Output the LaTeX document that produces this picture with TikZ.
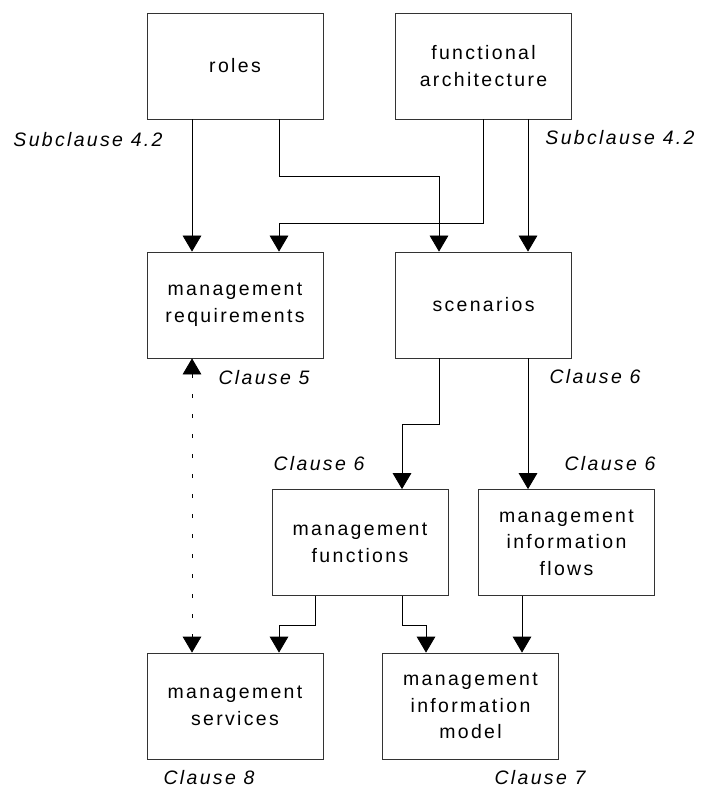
\documentclass[tikz,border=0pt]{standalone}
\usepackage{fontspec}
\setmainfont{Liberation Sans}[LetterSpace=12]
\usetikzlibrary{arrows.meta,calc}
\tikzstyle{box}=[draw=black!80,line width=0.6pt,minimum width=132pt,minimum height=79.5pt,
  align=center,font=\fontsize{14.6}{20}\selectfont]
\tikzstyle{ref}=[font=\fontsize{14.6}{20}\selectfont\itshape]
\tikzstyle{arr}=[line width=0.6pt,-{Triangle[width=14pt,length=12pt]}]

\begin{document}
\begin{tikzpicture}[x=0.75pt,y=-0.75pt]
  \useasboundingbox (0,0) rectangle (702,787);
  % boxes
  \node[box] (roles) at (235,66) {roles};
  \node[box] (func) at (483.5,66) {functional\\architecture};
  \node[box] (req) at (235,305) {management\\requirements};
  \node[box] (scen) at (483.5,305) {scenarios};
  \node[box] (mfun) at (360,542.5) {management\\functions};
  \node[box] (flows) at (566.5,542.5) {management\\information\\flows};
  \node[box] (serv) at (235,706) {management\\services};
  \node[box] (model) at (470.5,706) {management\\information\\model};
  % clause references
  \node[ref] (subl) at (88,140) {Subclause 4.2};
  \node[ref] (subr) at (620,138) {Subclause 4.2};
  \node[ref] (cl5) at (264,378) {Clause 5};
  \node[ref] (cl6a) at (595,377) {Clause 6};
  \node[ref] (cl6b) at (319,464) {Clause 6};
  \node[ref] (cl6c) at (610,464) {Clause 6};
  \node[ref] (cl8) at (209,778) {Clause 8};
  \node[ref] (cl7) at (540,778) {Clause 7};
  % connectors
  \draw[arr] ($(roles.south)+(-43,0)$) -- ($(req.north)+(-43,0)$);
  \draw[arr] ($(roles.south)+(44,0)$) -- ++(0,57) -| ($(scen.north)+(-44.5,0)$);
  \draw[arr] (func.south) -- ++(0,104) -| ($(req.north)+(44,0)$);
  \draw[arr] ($(func.south)+(44.5,0)$) -- ($(scen.north)+(44.5,0)$);
  \draw[arr] ($(scen.south)+(-44.5,0)$) -- ++(0,66) -| ($(mfun.north)+(42,0)$);
  \draw[arr] ($(scen.south)+(44.5,0)$) -- ($(flows.north)+(-38.5,0)$);
  \draw[arr] ($(mfun.south)+(-45,0)$) -- ++(0,29) -| ($(serv.north)+(44,0)$);
  \draw[arr] ($(mfun.south)+(42,0)$) -- ++(0,29) -| ($(model.north)+(-44.5,0)$);
  \draw[arr] ($(flows.south)+(-44.5,0)$) -- ($(model.north)+(51.5,0)$);
  \draw[line width=0.6pt,dash pattern=on 3pt off 12pt,
    {Triangle[width=14pt,length=12pt]}-{Triangle[width=14pt,length=12pt]}]
    ($(req.south)+(-43,0)$) -- ($(serv.north)+(-43,0)$);
\end{tikzpicture}
\end{document}
